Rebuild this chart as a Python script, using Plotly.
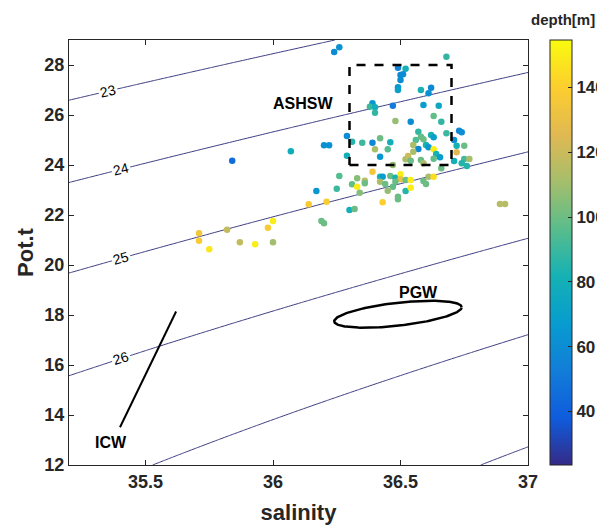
import numpy as np
import plotly.graph_objects as go

# ---------------- data ----------------
salinity = [36.24, 36.26, 36.68, 36.49, 36.52, 36.50, 36.51, 36.50, 36.49, 36.49,
            36.58, 36.62, 36.61, 36.39, 36.38, 36.40, 36.40, 36.47, 36.59, 36.65,
            36.63, 36.66, 36.48, 36.54, 36.29, 36.31, 36.35, 36.39, 36.42, 36.46,
            36.40, 36.45, 36.42, 36.29, 36.07, 36.20, 36.22, 36.57, 36.58, 36.59,
            36.62, 36.63, 36.68, 36.73, 36.74, 36.71, 36.72, 36.75, 36.56, 36.55,
            36.57, 36.60, 36.61, 36.63, 36.64, 36.655, 36.63, 36.72, 36.71, 36.75,
            36.77, 36.74, 36.76, 36.52, 36.53, 36.55, 36.54, 36.58, 36.59, 36.66,
            36.47, 36.39, 36.26, 36.33, 36.36, 36.31, 36.36, 36.33, 36.42, 36.43,
            36.46, 36.48, 36.42, 36.44, 36.50, 36.50, 36.52, 36.54, 36.48, 36.47,
            36.45, 36.52, 36.54, 36.59, 36.61, 36.63, 36.60, 36.49, 36.49, 36.43,
            36.25, 36.17, 36.21, 36.14, 36.30, 36.32, 36.19, 36.20, 36.00, 35.98,
            35.93, 36.00, 35.84, 35.71, 35.71, 35.75, 35.82, 35.87, 36.89, 36.91,
            36.34]
temperature = [28.52, 28.71, 28.33, 27.89, 27.85, 27.60, 27.63, 27.40, 27.11, 27.00,
               27.00, 27.09, 26.87, 26.47, 26.33, 26.31, 26.09, 26.37, 26.40, 26.37,
               25.96, 25.73, 25.76, 25.73, 25.16, 24.93, 24.89, 24.89, 25.07, 24.91,
               24.63, 24.63, 24.33, 24.37, 24.55, 24.79, 24.79, 25.33, 25.13, 25.03,
               25.20, 25.11, 25.27, 25.37, 25.31, 25.00, 24.77, 24.77, 25.00, 24.80,
               24.64, 24.80, 24.71, 24.63, 24.44, 24.31, 24.25, 24.51, 24.16, 24.24,
               24.24, 24.07, 23.96, 24.23, 24.36, 24.53, 24.17, 24.20, 24.07, 23.87,
               24.00, 23.73, 23.56, 23.47, 23.37, 23.23, 23.27, 23.13, 23.53, 23.53,
               23.56, 23.49, 23.33, 23.24, 23.63, 23.43, 23.40, 23.40, 23.33, 23.13,
               22.97, 22.96, 23.09, 23.36, 23.53, 23.53, 23.24, 22.73, 22.63, 22.51,
               23.05, 22.96, 22.53, 22.43, 22.20, 22.24, 21.76, 21.67, 21.76, 21.49,
               20.83, 20.91, 24.17, 21.27, 20.97, 20.63, 21.41, 20.91, 22.44, 22.44,
               22.89]
depth = [60, 62, 88, 55, 80, 58, 60, 60, 65, 70,
         82, 58, 62, 65, 90, 80, 88, 52, 68, 75,
         98, 88, 108, 60, 60, 85, 90, 58, 100, 80,
         112, 95, 65, 80, 78, 62, 62, 88, 98, 100,
         82, 70, 90, 58, 60, 62, 82, 100, 95, 112,
         58, 82, 65, 150, 82, 68, 98, 125, 80, 92,
         112, 85, 85, 112, 120, 112, 100, 100, 112, 100,
         108, 135, 95, 105, 115, 98, 100, 150, 82, 68,
         100, 82, 112, 100, 150, 132, 100, 150, 100, 98,
         108, 85, 150, 100, 112, 145, 100, 100, 100, 140,
         90, 65, 138, 138, 80, 100, 100, 100, 150, 138,
         150, 110, 45, 135, 138, 148, 118, 118, 115, 115,
         105]

sigma_levels = [23, 24, 25, 26, 27, 28]
labelled_levels = [23, 24, 25, 26]
label_salinity = [35.354, 35.405, 35.405, 35.405]

box_s = [36.3, 36.7, 36.7, 36.3, 36.3]
box_t = [24.0, 24.0, 28.0, 28.0, 24.0]

icw_s = [35.40, 35.62]
icw_t = [13.51, 18.14]

pgw_center = (36.49, 18.03)
pgw_semi_s = 0.25
pgw_semi_t = 0.46
pgw_tilt_t = 0.28

x_range = [35.2, 37.0]
y_range = [12.0, 29.0]
x_ticks = [35.5, 36, 36.5, 37]
y_ticks = [12, 14, 16, 18, 20, 22, 24, 26, 28]
cbar_range = [23.5, 154.6]
cbar_ticks = [40, 60, 80, 100, 120, 140]

# ---------------- sea-water density (UNESCO EOS-80, p = 0) ----------------
def sigma0(S, T):
    S = np.asarray(S, float); T = np.asarray(T, float)
    rw = (999.842594 + 6.793952e-2*T - 9.095290e-3*T**2 + 1.001685e-4*T**3
          - 1.120083e-6*T**4 + 6.536332e-9*T**5)
    A = 8.24493e-1 - 4.0899e-3*T + 7.6438e-5*T**2 - 8.2467e-7*T**3 + 5.3875e-9*T**4
    B = -5.72466e-3 + 1.0227e-4*T - 1.6546e-6*T**2
    C = 4.8314e-4
    return rw + A*S + B*S**1.5 + C*S**2 - 1000.0

def temp_on_isopycnal(S, sig):
    lo, hi = 0.0, 40.0
    for _ in range(60):
        mid = 0.5*(lo+hi)
        if sigma0(S, mid) > sig:
            lo = mid
        else:
            hi = mid
    return 0.5*(lo+hi)

sg = np.linspace(x_range[0], x_range[1], 181)
tg = np.linspace(y_range[0], y_range[1], 171)
SS, TT = np.meshgrid(sg, tg)
ZZ = sigma0(SS, TT)

# ---------------- colours ----------------
parula = [[0.0, 'rgb(53,42,135)'], [1/9, 'rgb(15,92,221)'], [2/9, 'rgb(18,125,216)'],
          [3/9, 'rgb(7,156,207)'], [4/9, 'rgb(21,177,180)'], [5/9, 'rgb(89,189,140)'],
          [6/9, 'rgb(165,190,107)'], [7/9, 'rgb(225,185,82)'], [8/9, 'rgb(252,206,46)'],
          [1.0, 'rgb(249,251,14)']]
iso_color = '#3c3c82'
FONT = 'Liberation Sans, Arial, Helvetica, sans-serif'

# page body has an 8px margin, so the figure is made 8px smaller
W, H = 597, 519
ml, mr, mt, mb = 61, 77, 32, 62
plot_w = W - ml - mr
plot_h = H - mt - mb

fig = go.Figure()

fig.add_trace(go.Contour(
    x=sg, y=tg, z=ZZ,
    contours=dict(start=sigma_levels[0], end=sigma_levels[-1], size=1,
                  coloring='none', showlabels=False),
    line=dict(color=iso_color, width=1),
    showscale=False, hoverinfo='skip', showlegend=False))

fig.add_trace(go.Scatter(
    x=salinity, y=temperature, mode='markers',
    marker=dict(size=6.5, color=depth, colorscale=parula,
                cmin=cbar_range[0], cmax=cbar_range[1],
                line=dict(width=0),
                colorbar=dict(x=(542-ml)/plot_w, xanchor='left', xref='paper',
                              xpad=0, ypad=0,
                              y=0.5, yanchor='middle', len=1.0, lenmode='fraction',
                              thickness=22, outlinewidth=1, outlinecolor='#262626',
                              tickvals=cbar_ticks, ticks='inside', ticklen=4,
                              tickcolor='#262626',
                              tickfont=dict(family=FONT, size=17, color='#262626',
                                            weight='bold'))),
    showlegend=False))

fig.add_trace(go.Scatter(x=box_s, y=box_t, mode='lines',
                         line=dict(color='black', width=2.5, dash='dash'),
                         showlegend=False, hoverinfo='skip'))

fig.add_trace(go.Scatter(x=icw_s, y=icw_t, mode='lines',
                         line=dict(color='black', width=2),
                         showlegend=False, hoverinfo='skip'))

th = np.linspace(0, 2*np.pi, 200)
fig.add_trace(go.Scatter(
    x=pgw_center[0] + pgw_semi_s*np.cos(th),
    y=pgw_center[1] + pgw_semi_t*np.sin(th) + pgw_tilt_t*np.cos(th),
    mode='lines', line=dict(color='black', width=2.5),
    showlegend=False, hoverinfo='skip'))

# isopycnal labels
px_s = plot_w/(x_range[1]-x_range[0])
px_t = plot_h/(y_range[1]-y_range[0])
for lev, s_lab in zip(labelled_levels, label_salinity):
    t_lab = temp_on_isopycnal(s_lab, lev)
    d = 1e-3
    dsdS = (sigma0(s_lab+d, t_lab)-sigma0(s_lab-d, t_lab))/(2*d)
    dsdT = (sigma0(s_lab, t_lab+d)-sigma0(s_lab, t_lab-d))/(2*d)
    slope = -dsdS/dsdT
    ang = -np.degrees(np.arctan(slope*px_t/px_s))
    fig.add_annotation(x=s_lab, y=t_lab, text=str(lev), showarrow=False,
                       textangle=ang, bgcolor='white', borderpad=1,
                       font=dict(family=FONT, size=14, color='black'))

for txt, sx, ty in [('ASHSW', 36.116, 26.48), ('PGW', 36.569, 18.92), ('ICW', 35.364, 12.89)]:
    fig.add_annotation(x=sx, y=ty, text=txt, showarrow=False,
                       font=dict(family=FONT, size=16, color='black', weight='bold'))

fig.add_annotation(xref='paper', yref='paper', x=(555-ml)/plot_w, y=1 + 20/plot_h,
                   xanchor='center', yanchor='middle',
                   text='depth[m]', showarrow=False,
                   font=dict(family=FONT, size=15, color='#262626', weight='bold'))

axis_common = dict(showgrid=False, zeroline=False, showline=True, linecolor='#262626',
                   linewidth=1, mirror='ticks', ticks='inside', ticklen=5,
                   tickcolor='#262626',
                   tickfont=dict(family=FONT, size=18, color='#262626', weight='bold'))

fig.update_layout(
    width=W, height=H,
    margin=dict(l=ml, r=mr, t=mt, b=mb, autoexpand=False),
    showlegend=False,
    paper_bgcolor='white', plot_bgcolor='white',
    xaxis=dict(range=x_range, tickvals=x_ticks, ticktext=['35.5', '36', '36.5', '37'],
               title=dict(text='salinity', standoff=14,
                          font=dict(family=FONT, size=22, color='#262626', weight='bold')),
               **axis_common),
    yaxis=dict(range=y_range, tickvals=y_ticks,
               title=dict(text='Pot.t', standoff=4,
                          font=dict(family=FONT, size=22, color='#262626', weight='bold')),
               **axis_common),
)

fig.write_html('out.html')
